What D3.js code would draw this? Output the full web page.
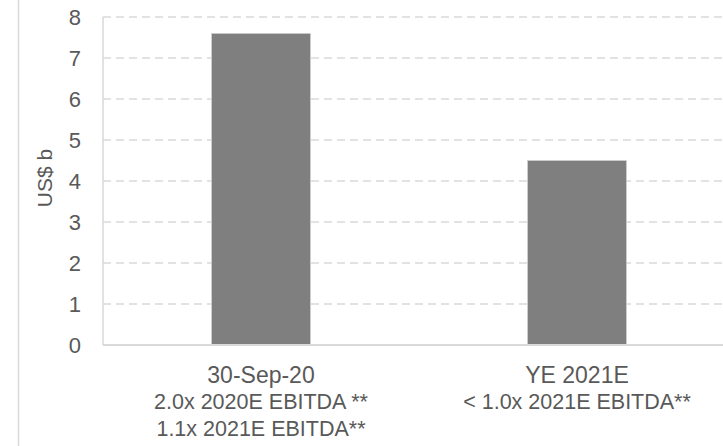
<!DOCTYPE html>
<html>
<head>
<meta charset="utf-8">
<script src="https://cdn.jsdelivr.net/npm/d3@7"></script>
<style>
  html, body { margin: 0; padding: 0; background: #fff; }
  svg { display: block; font-family: "Liberation Sans", Arial, sans-serif; }
</style>
</head>
<body>
<svg id="chart" width="723" height="446"></svg>
<script>
/* ── Data ──────────────────────────────────────────────────── */
const categories = ['30-Sep-20', 'YE 2021E'];
const values = [7.6, 4.5];
const subLabels = [
  ['2.0x 2020E EBITDA **', '1.1x 2021E EBITDA**'],
  ['< 1.0x 2021E EBITDA**'],
];
const yTicks = [0, 1, 2, 3, 4, 5, 6, 7, 8];
const yTitle = 'US$ b';

/* ── Layout ────────────────────────────────────────────────── */
const W = 723, H = 446;
const plot = { left: 103, top: 17, bottom: 345, right: 735 };
const TEXT = '#595959';
const GRID = '#d9d9d9';

const svg = d3.select('#chart');

const x = d3.scaleBand()
  .domain(categories)
  .range([plot.left, plot.right])
  .paddingInner(0.687)
  .paddingOuter(0.3435);

const y = d3.scaleLinear()
  .domain([0, 8])
  .range([plot.bottom, plot.top]);

// chart-area border on the left
svg.append('line')
  .attr('x1', 18.5).attr('x2', 18.5)
  .attr('y1', 0).attr('y2', H)
  .attr('stroke', GRID).attr('stroke-width', 1.5);

// gridlines (dashed)
svg.append('g')
  .selectAll('line')
  .data(yTicks.filter(d => d > 0))
  .join('line')
  .attr('x1', plot.left).attr('x2', W)
  .attr('y1', d => y(d)).attr('y2', d => y(d))
  .attr('stroke', GRID)
  .attr('stroke-width', 1.5)
  .attr('stroke-dasharray', '8,5');

// bars
svg.append('g')
  .selectAll('rect')
  .data(values)
  .join('rect')
  .attr('x', (d, i) => x(categories[i]))
  .attr('width', x.bandwidth())
  .attr('y', d => y(d))
  .attr('height', d => y(0) - y(d))
  .attr('fill', '#7f7f7f')
  .attr('stroke', '#d0d0d0')
  .attr('stroke-width', 0.75);

// y axis line + baseline
svg.append('line')
  .attr('x1', plot.left).attr('x2', plot.left)
  .attr('y1', y(8)).attr('y2', y(0))
  .attr('stroke', GRID).attr('stroke-width', 1.5);
svg.append('line')
  .attr('x1', plot.left).attr('x2', W)
  .attr('y1', y(0)).attr('y2', y(0))
  .attr('stroke', GRID).attr('stroke-width', 2);

// y tick labels
const yAxis = svg.append('g')
  .attr('transform', `translate(${plot.left},0)`)
  .call(d3.axisLeft(y).tickValues(yTicks).tickSize(0).tickPadding(22));
yAxis.select('.domain').remove();
yAxis.selectAll('text')
  .attr('fill', TEXT)
  .attr('font-size', 22)
  .attr('font-family', '"Liberation Sans", Arial, sans-serif');

// y title
svg.append('text')
  .attr('transform', 'translate(52,178) rotate(-90)')
  .attr('text-anchor', 'middle')
  .attr('fill', TEXT)
  .attr('font-size', 21)
  .text(yTitle);

// x labels
const xl = svg.append('g')
  .selectAll('g')
  .data(categories)
  .join('g')
  .attr('transform', d => `translate(${x(d) + x.bandwidth() / 2},0)`);

xl.append('text')
  .attr('y', 383)
  .attr('text-anchor', 'middle')
  .attr('fill', TEXT)
  .attr('font-size', 23)
  .text(d => d);

xl.each(function(d, i) {
  d3.select(this).selectAll('text.sub')
    .data(subLabels[i])
    .join('text')
    .attr('class', 'sub')
    .attr('y', (s, j) => 409 + j * 27)
    .attr('text-anchor', 'middle')
    .attr('fill', TEXT)
    .attr('font-size', 21.5)
    .text(s => s);
});
</script>
</body>
</html>
